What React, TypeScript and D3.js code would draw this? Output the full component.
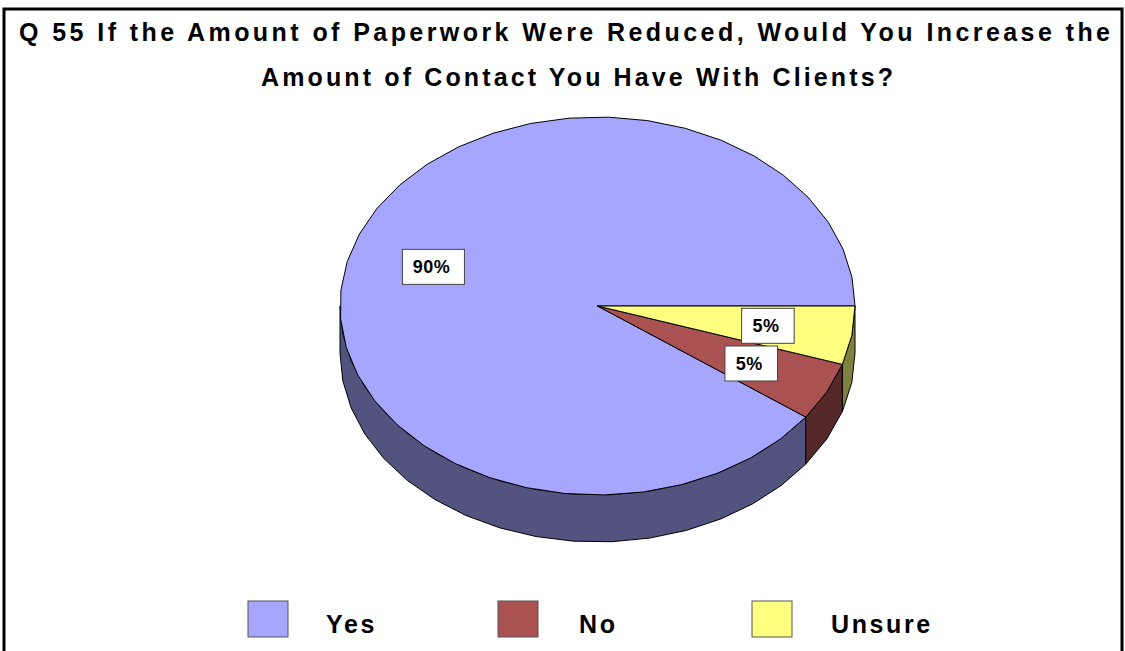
import React from "react";
import * as d3 from "d3";

const titleLines = [
  "Q 55 If the Amount of Paperwork Were Reduced, Would You Increase the",
  "Amount of Contact You Have With Clients?",
];
const categories = ["Yes", "No", "Unsure"];
const values = [90, 5, 5];
const topColors = ["#A6A6FF", "#AA5252", "#FFFF80"];
const sideColors = ["#53537F", "#552929", "#80803F"];

const W = 1125;
const H = 651;
const cx = 597.5;
const cy = 306;
const rx = 257.5;
const ry = 189;
const depth = 47;
const SEG = Math.PI / 20;

function arcPoints(t0: number, t1: number, dy = 0): [number, number][] {
  const pts: [number, number][] = [];
  const n = Math.max(1, Math.ceil(Math.abs(t1 - t0) / SEG));
  for (let i = 0; i <= n; i++) {
    const t = t0 + ((t1 - t0) * i) / n;
    pts.push([cx + rx * Math.cos(t), cy + ry * Math.sin(t) + dy]);
  }
  return pts;
}

const FONT = "'Liberation Sans', Arial, sans-serif";

export default function App() {
  const pie = d3.pie<number>().sort(null).startAngle(0).endAngle(2 * Math.PI);
  const arcs = pie(values);
  const total = d3.sum(values);
  const slices = arcs.map((a, i) => {
    const t0 = 2 * Math.PI - a.endAngle;
    const t1 = 2 * Math.PI - a.startAngle;
    return { i, t0, t1, value: a.data };
  });
  const line = d3.line();

  const sides: React.ReactNode[] = [];
  slices.forEach((s) => {
    const lo = Math.max(s.t0, 0);
    const hi = Math.min(s.t1, Math.PI);
    if (hi > lo) {
      const top = arcPoints(lo, hi);
      const bot = arcPoints(hi, lo, depth);
      sides.push(
        <path
          key={"side" + s.i}
          d={line([...top, ...bot])! + "Z"}
          fill={sideColors[s.i]}
          stroke="#000"
          strokeWidth={1}
          strokeLinejoin="round"
        />
      );
    }
  });

  const tops = slices.map((s) => {
    const pts: [number, number][] = [[cx, cy], ...arcPoints(s.t0, s.t1)];
    return (
      <path
        key={"top" + s.i}
        d={line(pts)! + "Z"}
        fill={topColors[s.i]}
        stroke="#000"
        strokeWidth={1}
        strokeLinejoin="round"
      />
    );
  });

  const labels = slices.map((s) => {
    const tm = (s.t0 + s.t1) / 2;
    const lx = cx + 0.67 * rx * Math.cos(tm);
    const ly = cy + 0.67 * ry * Math.sin(tm);
    const txt = Math.round((s.value / total) * 100) + "%";
    const fs = 17;
    const tw = (txt.length - 1) * 0.556 * fs + 0.889 * fs;
    const bw = tw + 28;
    const bh = 35;
    return (
      <g key={"lab" + s.i}>
        <rect
          x={lx - bw / 2}
          y={ly - bh / 2}
          width={bw}
          height={bh}
          fill="#fff"
          stroke="#444"
          strokeWidth={1}
        />
        <text
          x={lx - 2}
          y={ly + 6.5}
          textAnchor="middle"
          fontFamily={FONT}
          fontWeight="bold"
          fontSize={18}
          letterSpacing={0.5}
          fill="#000"
        >
          {txt}
        </text>
      </g>
    );
  });

  const legendSquareX = [248, 498, 752];
  const legendTextX = [326, 579, 831];

  return (
    <svg
      width={W}
      height={H}
      style={{ position: "absolute", left: 0, top: 0, background: "#fff" }}
    >
      <rect x={4} y={9} width={1118} height={700} fill="#fff" stroke="#000" strokeWidth={3} />
      <text
        x={19}
        y={41}
        textLength={1091}
        lengthAdjust="spacing"
        fontFamily={FONT}
        fontWeight="bold"
        fontSize={25}
        fill="#000"
      >
        {titleLines[0]}
      </text>
      <text
        x={261}
        y={86}
        textLength={632}
        lengthAdjust="spacing"
        fontFamily={FONT}
        fontWeight="bold"
        fontSize={25}
        fill="#000"
      >
        {titleLines[1]}
      </text>
      {sides}
      {tops}
      {labels}
      {categories.map((c, i) => (
        <g key={"leg" + i}>
          <rect
            x={legendSquareX[i]}
            y={601}
            width={40}
            height={36}
            fill={topColors[i]}
            stroke="#555"
            strokeWidth={1}
          />
          <text
            x={legendTextX[i]}
            y={633}
            fontFamily={FONT}
            fontWeight="bold"
            fontSize={25}
            letterSpacing={2.6}
            fill="#000"
          >
            {c}
          </text>
        </g>
      ))}
    </svg>
  );
}
